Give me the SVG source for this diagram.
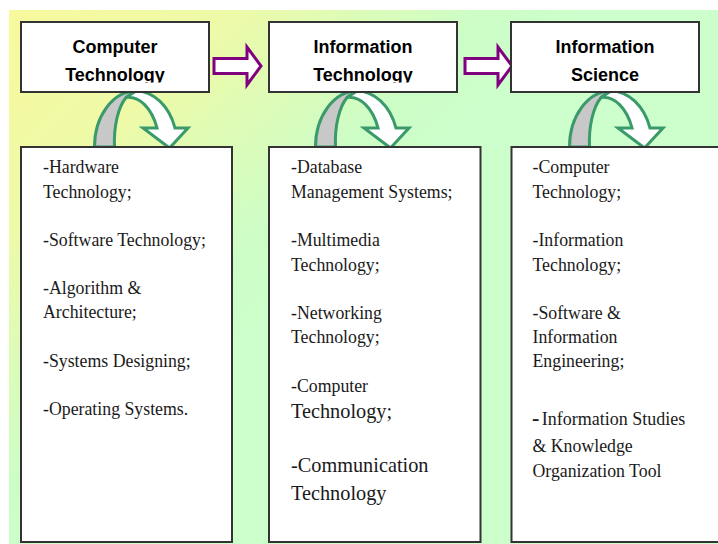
<svg xmlns="http://www.w3.org/2000/svg" width="718" height="544" viewBox="0 0 718 544">
  <defs>
    <linearGradient id="bgGrad" gradientUnits="userSpaceOnUse" x1="0" y1="0" x2="300" y2="300">
      <stop offset="0" stop-color="#f9f99c"/>
      <stop offset="0.4" stop-color="#eefaa8"/>
      <stop offset="0.82" stop-color="#cdfdc6"/>
      <stop offset="1" stop-color="#ccffcc"/>
    </linearGradient>
    <clipPath id="clipT1"><rect x="21" y="22" width="188" height="60.5"/></clipPath>
    <clipPath id="clipT2"><rect x="269" y="22" width="188" height="60.5"/></clipPath>
    <clipPath id="clipT3"><rect x="511" y="22" width="188" height="60.5"/></clipPath>
    <!-- curved down arrow: grey back band and white front band with head -->
    <g id="curvedDown">
      <path class="band-back" d="M94.5,147 A41.5,56 0 0 1 136,91 L126,97.5 A22,50 0 0 0 114.5,147 Z"/>
      <path class="band-front" d="M136,91 A41.5,56 0 0 1 175,128 L188,128 L169.5,148 L143,128 L157,128 A31,50 0 0 0 126,97.5 Z"/>
    </g>
  </defs>
  <style>
    .box { fill: #ffffff; stroke: #333333; stroke-width: 2; }
    .title { font-family: "Liberation Sans", Arial, sans-serif; font-weight: bold; font-size: 18px; fill: #000000; text-anchor: middle; }
    .item { font-family: "Liberation Serif", "Times New Roman", serif; font-size: 17.8px; fill: #1a1a1a; }
    .big { font-size: 20.3px; }
    .step { fill: #ffffff; stroke: #800080; stroke-width: 3; stroke-linejoin: miter; }
    .band-back { fill: #c8c8c8; stroke: #3a9a6a; stroke-width: 3; stroke-linejoin: round; }
    .band-front { fill: #ffffff; stroke: #3a9a6a; stroke-width: 3; stroke-linejoin: miter; }
  </style>

  <!-- background panel -->
  <rect x="9" y="10" width="709" height="534" fill="url(#bgGrad)"/>

  <!-- connectors -->
  <g id="connectors">
    <path class="step" d="M214,58.5 L247,58.5 L247,47 L261,66 L247,85 L247,73.5 L214,73.5 Z"/>
    <path class="step" d="M465,58.5 L498,58.5 L498,47 L512,66 L498,85 L498,73.5 L465,73.5 Z"/>
    <use href="#curvedDown"/>
    <use href="#curvedDown" transform="translate(221,0)"/>
    <use href="#curvedDown" transform="translate(475,0)"/>
  </g>

  <!-- top row -->
  <g id="computer-technology">
    <rect class="box" x="21" y="22" width="188" height="70"/>
    <g clip-path="url(#clipT1)">
      <text class="title" x="115" y="53">Computer</text>
      <text class="title" x="115" y="81">Technology</text>
    </g>
  </g>
  <g id="information-technology">
    <rect class="box" x="269" y="22" width="188" height="70"/>
    <g clip-path="url(#clipT2)">
      <text class="title" x="363" y="53">Information</text>
      <text class="title" x="363" y="81">Technology</text>
    </g>
  </g>
  <g id="information-science">
    <rect class="box" x="511" y="22" width="188" height="70"/>
    <g clip-path="url(#clipT3)">
      <text class="title" x="605" y="53">Information</text>
      <text class="title" x="605" y="81">Science</text>
    </g>
  </g>

  <!-- bottom row -->
  <g id="computer-technology-topics">
    <rect class="box" x="21" y="147" width="211" height="395"/>
    <text class="item" x="43" y="173">-Hardware</text>
    <text class="item" x="43" y="197.5">Technology;</text>
    <text class="item" x="43" y="246">-Software Technology;</text>
    <text class="item" x="43" y="294">-Algorithm &amp;</text>
    <text class="item" x="43" y="318">Architecture;</text>
    <text class="item" x="43" y="367">-Systems Designing;</text>
    <text class="item" x="43" y="415">-Operating Systems.</text>
  </g>
  <g id="information-technology-topics">
    <rect class="box" x="269" y="147" width="211.5" height="395"/>
    <text class="item" x="291" y="173">-Database</text>
    <text class="item" x="291" y="198">Management Systems;</text>
    <text class="item" x="291" y="246">-Multimedia</text>
    <text class="item" x="291" y="271">Technology;</text>
    <text class="item" x="291" y="319">-Networking</text>
    <text class="item" x="291" y="343">Technology;</text>
    <text class="item" x="291" y="392">-Computer</text>
    <text class="item big" x="291" y="418">Technology;</text>
    <text class="item big" x="291" y="472">-Communication</text>
    <text class="item big" x="291" y="500">Technology</text>
  </g>
  <g id="information-science-topics">
    <rect class="box" x="511.5" y="147" width="220" height="395"/>
    <text class="item" x="532.5" y="173">-Computer</text>
    <text class="item" x="532.5" y="198">Technology;</text>
    <text class="item" x="532.5" y="246">-Information</text>
    <text class="item" x="532.5" y="271">Technology;</text>
    <text class="item" x="532.5" y="319">-Software &amp;</text>
    <text class="item" x="532.5" y="343">Information</text>
    <text class="item" x="532.5" y="367">Engineering;</text>
    <text class="item" x="532" y="425"><tspan font-weight="bold" font-size="22">-</tspan><tspan x="541.7" font-size="18">Information Studies</tspan></text>
    <text class="item" x="532.5" y="452" font-size="18">&amp; Knowledge</text>
    <text class="item" x="532.5" y="477" font-size="18">Organization Tool</text>
  </g>
</svg>
